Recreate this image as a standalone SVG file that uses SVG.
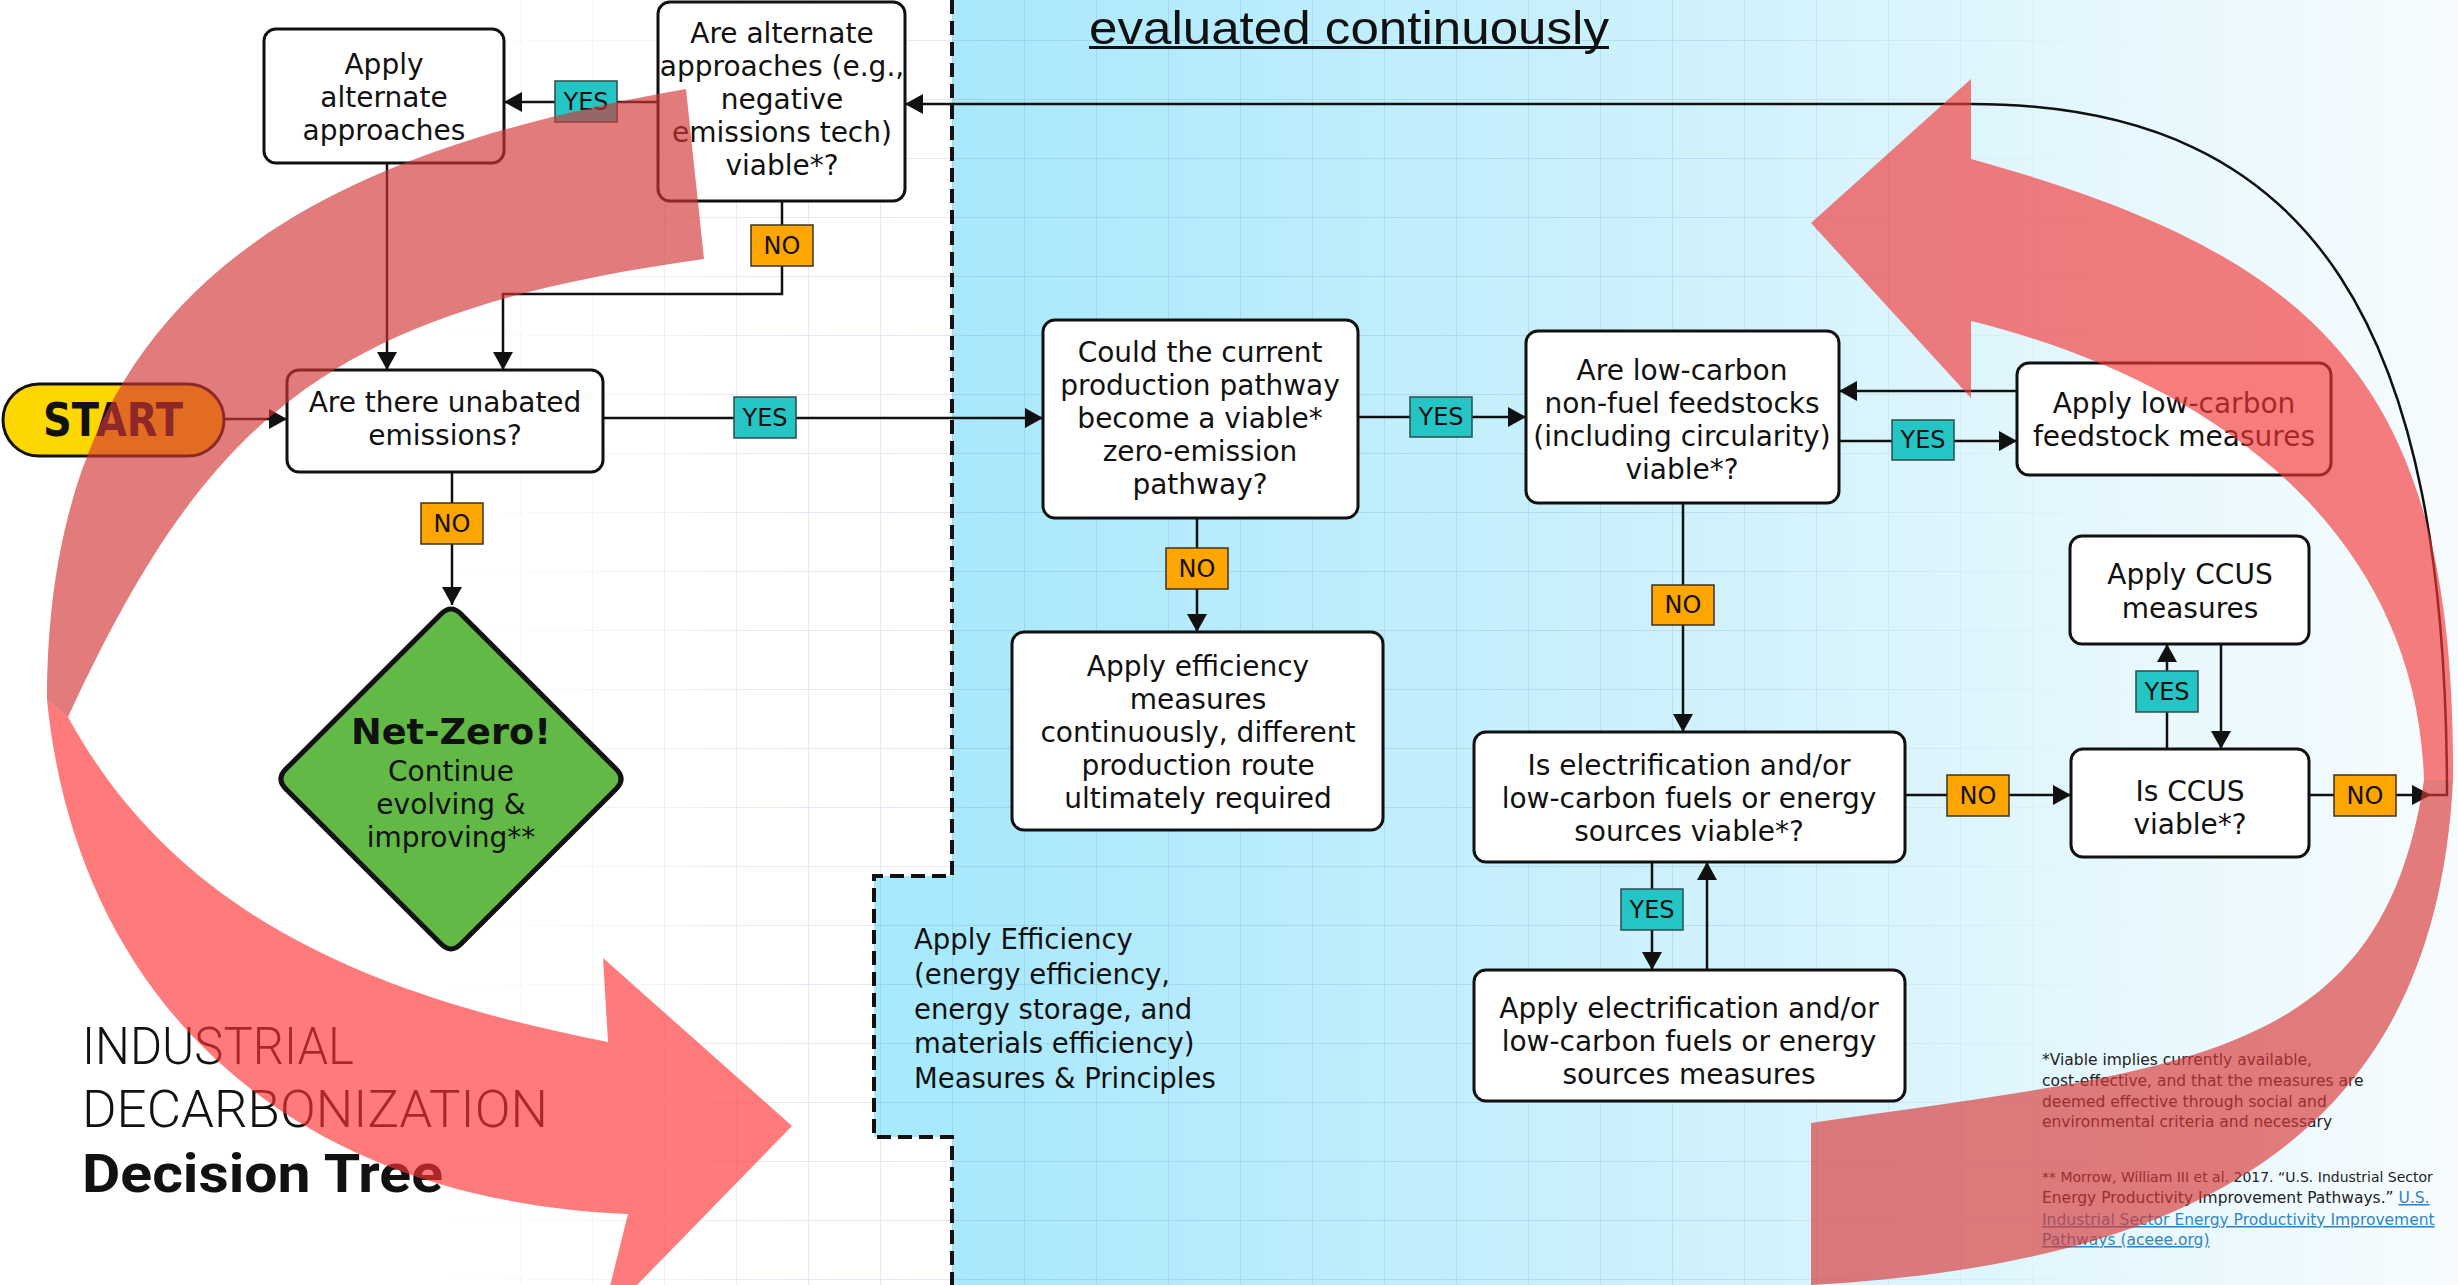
<svg xmlns="http://www.w3.org/2000/svg" width="2458" height="1285" viewBox="0 0 2458 1285">
<defs>
<style>
.box{fill:#fff;stroke:#111;stroke-width:3}
.t{font-family:'DejaVu Sans','Open Sans',sans-serif;font-size:28px;fill:#111;text-anchor:middle}
.tl{font-family:'DejaVu Sans','Open Sans',sans-serif;font-size:27.5px;fill:#111;text-anchor:start}
.conn{fill:none;stroke:#111;stroke-width:2.5}
.yes{fill:#25c5c5;stroke:#2b4d4d;stroke-width:1.5}
.no{fill:#ffa500;stroke:#3d3320;stroke-width:1.5}
.lt{font-family:'DejaVu Sans','Open Sans',sans-serif;font-size:24px;fill:#111;text-anchor:middle}
.fn{font-family:'DejaVu Sans','Open Sans',sans-serif;font-size:15.5px;fill:#222}
.fns{font-size:14px}
.lnk{fill:#2f86c5;text-decoration:underline}
</style>
<linearGradient id="bg" gradientUnits="userSpaceOnUse" x1="952" y1="0" x2="2458" y2="0">
<stop offset="0" stop-color="#a9e8fc"/>
<stop offset="0.35" stop-color="#c4effc"/>
<stop offset="0.7" stop-color="#e0f6fd"/>
<stop offset="1" stop-color="#f7fcfe"/>
</linearGradient>
<pattern id="grid" patternUnits="userSpaceOnUse" x="16" y="40" width="72" height="59">
<path d="M0 0H72M0 0V59" fill="none" stroke="rgb(60,70,180)" stroke-opacity="0.12" stroke-width="2"/>
</pattern>
<linearGradient id="fadeG" gradientUnits="userSpaceOnUse" x1="0" y1="0" x2="2458" y2="0">
<stop offset="0.18" stop-color="#fff" stop-opacity="0"/>
<stop offset="0.32" stop-color="#fff" stop-opacity="1"/>
<stop offset="0.70" stop-color="#fff" stop-opacity="1"/>
<stop offset="0.87" stop-color="#fff" stop-opacity="0"/>
</linearGradient>
<mask id="gm"><rect width="2458" height="1285" fill="url(#fadeG)"/></mask>
<marker id="ah" viewBox="0 0 18 20" refX="18" refY="10" markerWidth="18" markerHeight="20" markerUnits="userSpaceOnUse" orient="auto">
<path d="M0,0L18,10L0,20Z" fill="#111"/>
</marker>
</defs>

<g id="background">
<rect width="2458" height="1285" fill="#fff"/>
<rect x="952" y="0" width="1506" height="1285" fill="url(#bg)"/>
<rect x="874" y="876" width="80" height="261" fill="#a7e9fd"/>
<rect width="2458" height="1285" fill="url(#grid)" mask="url(#gm)"/>
<path d="M952 0V876H874V1137H952V1285" fill="none" stroke="#111" stroke-width="4" stroke-dasharray="14 7"/>
</g>

<g id="heading">
<text x="1089" y="44" font-family="'Liberation Sans',Arial,sans-serif" font-size="46" fill="#111" textLength="520" lengthAdjust="spacingAndGlyphs">evaluated continuously</text>
<rect x="1089" y="46" width="520" height="3" fill="#111"/>
</g>

<g id="connectors">
<path class="conn" d="M658 102H504" marker-end="url(#ah)"/>
<path class="conn" d="M782 201V294H503V370" marker-end="url(#ah)"/>
<path class="conn" d="M387 162V370" marker-end="url(#ah)"/>
<path class="conn" d="M224 419H287" marker-end="url(#ah)"/>
<path class="conn" d="M603 418H1043" marker-end="url(#ah)"/>
<path class="conn" d="M452 472V605" marker-end="url(#ah)"/>
<path class="conn" d="M1358 417H1526" marker-end="url(#ah)"/>
<path class="conn" d="M1197 518V632" marker-end="url(#ah)"/>
<path class="conn" d="M1683 503V732" marker-end="url(#ah)"/>
<path class="conn" d="M2017 391H1839" marker-end="url(#ah)"/>
<path class="conn" d="M1839 441H2017" marker-end="url(#ah)"/>
<path class="conn" d="M1652 862V970" marker-end="url(#ah)"/>
<path class="conn" d="M1707 970V862" marker-end="url(#ah)"/>
<path class="conn" d="M1905 795H2071" marker-end="url(#ah)"/>
<path class="conn" d="M2167 749V644" marker-end="url(#ah)"/>
<path class="conn" d="M2221 644V749" marker-end="url(#ah)"/>
<path class="conn" d="M2309 795H2447C2447 335 2321 104 1971 104H905" marker-end="url(#ah)"/>
<path d="M2412 785L2431 795L2412 805Z" fill="#111"/>

<g id="lbl-yes-1"><rect class="yes" x="555" y="81" width="62" height="41"/><text class="lt" x="586" y="110">YES</text></g>
<g id="lbl-no-1"><rect class="no" x="751" y="225" width="62" height="41"/><text class="lt" x="782" y="254">NO</text></g>
<g id="lbl-yes-2"><rect class="yes" x="734" y="397" width="62" height="41"/><text class="lt" x="765" y="426">YES</text></g>
<g id="lbl-no-2"><rect class="no" x="421" y="503" width="62" height="41"/><text class="lt" x="452" y="532">NO</text></g>
<g id="lbl-yes-3"><rect class="yes" x="1410" y="397" width="62" height="40"/><text class="lt" x="1441" y="425">YES</text></g>
<g id="lbl-no-3"><rect class="no" x="1166" y="548" width="62" height="41"/><text class="lt" x="1197" y="577">NO</text></g>
<g id="lbl-no-4"><rect class="no" x="1652" y="585" width="62" height="40"/><text class="lt" x="1683" y="613">NO</text></g>
<g id="lbl-yes-4"><rect class="yes" x="1892" y="420" width="62" height="40"/><text class="lt" x="1923" y="448">YES</text></g>
<g id="lbl-yes-5"><rect class="yes" x="1621" y="889" width="62" height="41"/><text class="lt" x="1652" y="918">YES</text></g>
<g id="lbl-no-5"><rect class="no" x="1947" y="775" width="62" height="41"/><text class="lt" x="1978" y="804">NO</text></g>
<g id="lbl-yes-6"><rect class="yes" x="2136" y="671" width="62" height="41"/><text class="lt" x="2167" y="700">YES</text></g>
<g id="lbl-no-6"><rect class="no" x="2334" y="775" width="62" height="41"/><text class="lt" x="2365" y="804">NO</text></g>
</g>

<g id="node-apply-alternate">
<rect class="box" x="264" y="29" width="240" height="134" rx="12"/>
<text class="t" y="74"><tspan x="384">Apply</tspan><tspan x="384" dy="33">alternate</tspan><tspan x="384" dy="33">approaches</tspan></text>
</g>
<g id="node-alternate-viable">
<rect class="box" x="658" y="2" width="247" height="199" rx="12"/>
<text class="t" y="43"><tspan x="782">Are alternate</tspan><tspan x="782" dy="33">approaches (e.g.,</tspan><tspan x="782" dy="33">negative</tspan><tspan x="782" dy="33">emissions tech)</tspan><tspan x="782" dy="33">viable*?</tspan></text>
</g>
<g id="node-start">
<rect x="3" y="384" width="221" height="72" rx="36" fill="#ffd700" stroke="#111" stroke-width="3"/>
<text x="113" y="436" font-family="'DejaVu Sans','Open Sans',sans-serif" font-weight="700" font-size="46" fill="#111" text-anchor="middle" textLength="140" lengthAdjust="spacingAndGlyphs">START</text>
</g>
<g id="node-unabated">
<rect class="box" x="287" y="370" width="316" height="102" rx="12"/>
<text class="t" y="412"><tspan x="445">Are there unabated</tspan><tspan x="445" dy="33">emissions?</tspan></text>
</g>
<g id="node-netzero">
<path d="M441.1 613.9Q451 604 460.9 613.9L616.1 769.1Q626 779 616.1 788.9L460.9 944.1Q451 954 441.1 944.1L285.9 788.9Q276 779 285.9 769.1Z" fill="#62b946" stroke="#111" stroke-width="5"/>
<text x="451" y="744" font-family="'DejaVu Sans','Open Sans',sans-serif" font-weight="700" font-size="36" fill="#111" text-anchor="middle" textLength="200" lengthAdjust="spacingAndGlyphs">Net-Zero!</text>
<text class="t" y="781"><tspan x="451">Continue</tspan><tspan x="451" dy="33">evolving &amp;</tspan><tspan x="451" dy="33">improving**</tspan></text>
</g>
<g id="node-could-current">
<rect class="box" x="1043" y="320" width="315" height="198" rx="12"/>
<text class="t" y="362"><tspan x="1200">Could the current</tspan><tspan x="1200" dy="33">production pathway</tspan><tspan x="1200" dy="33">become a viable*</tspan><tspan x="1200" dy="33">zero-emission</tspan><tspan x="1200" dy="33">pathway?</tspan></text>
</g>
<g id="node-lowcarbon-feedstocks">
<rect class="box" x="1526" y="331" width="313" height="172" rx="12"/>
<text class="t" y="380"><tspan x="1682">Are low-carbon</tspan><tspan x="1682" dy="33">non-fuel feedstocks</tspan><tspan x="1682" dy="33">(including circularity)</tspan><tspan x="1682" dy="33">viable*?</tspan></text>
</g>
<g id="node-apply-lowcarbon">
<rect class="box" x="2017" y="363" width="314" height="112" rx="12"/>
<text class="t" y="413"><tspan x="2174">Apply low-carbon</tspan><tspan x="2174" dy="33">feedstock measures</tspan></text>
</g>
<g id="node-apply-efficiency">
<rect class="box" x="1012" y="632" width="371" height="198" rx="12"/>
<text class="t" y="676"><tspan x="1198">Apply efficiency</tspan><tspan x="1198" dy="33">measures</tspan><tspan x="1198" dy="33">continuously, different</tspan><tspan x="1198" dy="33">production route</tspan><tspan x="1198" dy="33">ultimately required</tspan></text>
</g>
<g id="node-electrification-viable">
<rect class="box" x="1474" y="732" width="431" height="130" rx="12"/>
<text class="t" y="775"><tspan x="1689">Is electrification and/or</tspan><tspan x="1689" dy="33">low-carbon fuels or energy</tspan><tspan x="1689" dy="33">sources viable*?</tspan></text>
</g>
<g id="node-apply-electrification">
<rect class="box" x="1474" y="970" width="431" height="131" rx="12"/>
<text class="t" y="1018"><tspan x="1689">Apply electrification and/or</tspan><tspan x="1689" dy="33">low-carbon fuels or energy</tspan><tspan x="1689" dy="33">sources measures</tspan></text>
</g>
<g id="node-apply-ccus">
<rect class="box" x="2070" y="536" width="239" height="108" rx="12"/>
<text class="t" y="584"><tspan x="2190">Apply CCUS</tspan><tspan x="2190" dy="34">measures</tspan></text>
</g>
<g id="node-ccus-viable">
<rect class="box" x="2071" y="749" width="238" height="108" rx="12"/>
<text class="t" y="801"><tspan x="2190">Is CCUS</tspan><tspan x="2190" dy="33">viable*?</tspan></text>
</g>
<g id="node-efficiency-principles">
<text class="tl" y="949"><tspan x="914">Apply Efficiency</tspan><tspan x="914" dy="35">(energy efficiency,</tspan><tspan x="914" dy="35">energy storage, and</tspan><tspan x="914" dy="34">materials efficiency)</tspan><tspan x="914" dy="35">Measures &amp; Principles</tspan></text>
</g>

<g id="title">
<text font-family="Roboto,'Open Sans',sans-serif" font-size="52" fill="#111"><tspan x="82" y="1064" font-weight="300" textLength="272" lengthAdjust="spacingAndGlyphs">INDUSTRIAL</tspan><tspan x="82" y="1127" font-weight="300" textLength="466" lengthAdjust="spacingAndGlyphs">DECARBONIZATION</tspan><tspan x="82" y="1192" font-weight="700" font-size="53" textLength="361" lengthAdjust="spacingAndGlyphs">Decision Tree</tspan></text>
</g>

<g id="footnotes">
<text class="fn" y="1065"><tspan x="2042">*Viable implies currently available,</tspan><tspan x="2042" dy="21">cost-effective, and that the measures are</tspan><tspan x="2042" dy="21">deemed effective through social and</tspan><tspan x="2042" dy="20">environmental criteria and necessary</tspan></text>
<text class="fn fns" x="2042" y="1182">** Morrow, William III et al. 2017. “U.S. Industrial Sector</text>
<text class="fn" y="1203"><tspan x="2042">Energy Productivity Improvement Pathways.” </tspan><tspan class="lnk">U.S.</tspan><tspan class="lnk" x="2042" dy="22">Industrial Sector Energy Productivity Improvement</tspan><tspan class="lnk" x="2042" dy="20">Pathways (aceee.org)</tspan></text>
</g>

<g id="big-arrows">
<path d="M686 89C292 158 47 300 47 700L68 717C207 417 328 311 704 259Z" fill="rgb(210,52,52)" fill-opacity="0.65"/>
<path d="M47 700C77 1000 288 1200 628 1214L601 1322L792 1126L603 958L608 1042C363 994.5 174 911 68 717Z" fill="rgb(255,52,52)" fill-opacity="0.65"/>
<path d="M1811 223L1971 79L1971 159C2318 255 2456 380 2453 780L2424 780C2416.5 530 2213.5 381 1971 321L1971 398Z" fill="rgb(242,56,56)" fill-opacity="0.65"/>
<path d="M2453 780C2436.5 1110 2231 1262 1811 1285L1811 1123C2191 1068 2382 1060 2424 780Z" fill="rgb(216,53,53)" fill-opacity="0.65"/>
</g>
</svg>
